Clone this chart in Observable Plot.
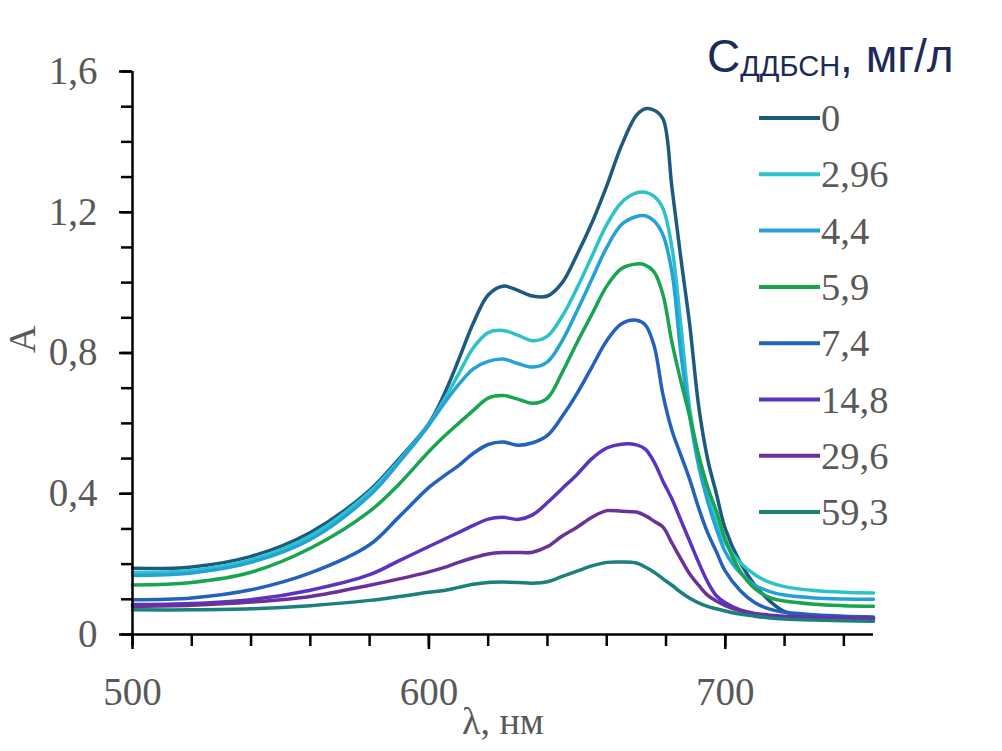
<!DOCTYPE html>
<html>
<head>
<meta charset="utf-8">
<script src="https://cdn.jsdelivr.net/npm/d3@7"></script>
<script src="https://cdn.jsdelivr.net/npm/@observablehq/plot@0.6"></script>
<style>
  html, body { margin: 0; padding: 0; background: #fff; }
  #wrap { position: relative; width: 1002px; height: 751px; }
  #legend { position: absolute; left: 0; top: 0; pointer-events: none; }
</style>
</head>
<body>
<div id="wrap"></div>
<script>
// ---- data ----
const lambda = [500,520,540,560,580,590,600,605,610,615,620,625,630,635,640,645,650,655,660,665,670,673,676,679,682,685,688,691,694,697,700,705,710,715,720,730,740,750];

const A_0    = [0.188,0.192,0.222,0.29,0.41,0.50,0.60,0.68,0.78,0.885,0.965,0.99,0.978,0.962,0.962,1.00,1.08,1.17,1.275,1.39,1.475,1.494,1.49,1.465,1.27,1.07,0.88,0.65,0.50,0.40,0.30,0.205,0.14,0.095,0.065,0.05,0.046,0.045];
const A_296  = [0.176,0.182,0.212,0.28,0.405,0.495,0.598,0.665,0.74,0.815,0.858,0.864,0.851,0.835,0.848,0.905,0.985,1.075,1.165,1.228,1.255,1.257,1.245,1.21,1.10,0.88,0.64,0.50,0.40,0.32,0.26,0.205,0.17,0.148,0.136,0.125,0.12,0.118];
const A_44   = [0.168,0.175,0.205,0.27,0.395,0.49,0.595,0.655,0.71,0.755,0.776,0.783,0.77,0.76,0.775,0.835,0.92,1.01,1.10,1.165,1.188,1.19,1.175,1.135,1.03,0.80,0.62,0.48,0.38,0.30,0.235,0.175,0.14,0.122,0.112,0.104,0.101,0.10];
const A_59   = [0.141,0.148,0.177,0.245,0.35,0.428,0.52,0.562,0.60,0.637,0.672,0.679,0.669,0.657,0.672,0.745,0.83,0.91,0.99,1.04,1.053,1.05,1.03,0.965,0.83,0.72,0.62,0.51,0.42,0.35,0.27,0.18,0.13,0.105,0.095,0.086,0.082,0.08];
const A_74   = [0.099,0.104,0.127,0.175,0.255,0.335,0.418,0.45,0.48,0.515,0.54,0.547,0.538,0.545,0.566,0.62,0.685,0.76,0.835,0.883,0.893,0.88,0.82,0.68,0.58,0.51,0.44,0.36,0.29,0.235,0.18,0.125,0.09,0.072,0.063,0.056,0.052,0.05];
const A_148  = [0.085,0.088,0.099,0.126,0.17,0.21,0.25,0.27,0.29,0.31,0.328,0.333,0.327,0.34,0.375,0.415,0.455,0.50,0.53,0.541,0.539,0.527,0.49,0.435,0.385,0.325,0.265,0.205,0.15,0.11,0.09,0.07,0.06,0.055,0.052,0.05,0.048,0.047];
const A_296b = [0.08,0.083,0.092,0.108,0.14,0.158,0.178,0.19,0.205,0.218,0.229,0.233,0.233,0.234,0.25,0.28,0.305,0.333,0.352,0.35,0.348,0.338,0.322,0.305,0.26,0.215,0.172,0.14,0.112,0.095,0.082,0.067,0.058,0.052,0.049,0.046,0.045,0.044];
const A_593  = [0.07,0.07,0.073,0.082,0.097,0.108,0.12,0.125,0.134,0.143,0.148,0.149,0.148,0.146,0.15,0.165,0.18,0.195,0.205,0.206,0.203,0.192,0.177,0.158,0.14,0.12,0.103,0.09,0.08,0.073,0.067,0.058,0.052,0.047,0.044,0.041,0.039,0.038];

const concLabels = ["0","2,96","4,4","5,9","7,4","14,8","29,6","59,3"];
const seriesValues = [A_0, A_296, A_44, A_59, A_74, A_148, A_296b, A_593];

const majorX = [500, 600, 700];
const minorX = d3.range(500, 741, 20);
const majorY = [0, 0.4, 0.8, 1.2, 1.6];
const minorY = d3.range(0, 17).map(i => i / 10);

// ---- styles ----
const seriesColors = ["#1d5a80","#2cc3c8","#24a1d9","#17a54f","#2261be","#5a33c3","#6b3199","#1b7f7c"];
const textGray = "#595959";
const serif = "'Liberation Serif', 'Times New Roman', serif";
const sans = "'Liberation Sans', Arial, sans-serif";
const fmtComma = d => d === 0 ? "0" : String(d).replace(".", ",");

const table = [];
concLabels.forEach((c, i) => lambda.forEach((nm, j) => table.push({nm, A: seriesValues[i][j], conc: c})));

const plot = Plot.plot({
  width: 1002,
  height: 751,
  marginLeft: 132,
  marginRight: 129,
  marginTop: 71,
  marginBottom: 117,
  style: {fontFamily: serif, background: "white", color: "black", overflow: "visible"},
  x: {domain: [500, 750]},
  y: {domain: [0, 1.6]},
  color: {domain: concLabels, range: seriesColors},
  marks: [
    Plot.line(table, {x: "nm", y: "A", z: "conc", stroke: "conc", strokeWidth: 3.5, curve: "catmull-rom"}),
    Plot.axisX({ticks: minorX, tickSize: 12, tickFormat: () => "", strokeWidth: 2.5, label: null}),
    Plot.axisX({ticks: majorX, tickSize: 15, tickPadding: 28, fontSize: 39, fill: textGray, stroke: "black", strokeWidth: 2.5, label: null}),
    Plot.axisY({ticks: minorY, tickSize: 11, tickFormat: () => "", strokeWidth: 2.5, label: null}),
    Plot.axisY({ticks: majorY, tickSize: 13, tickPadding: 22, tickFormat: fmtComma, fontSize: 39, fill: textGray, stroke: "black", strokeWidth: 2.5, label: null}),
    Plot.ruleX([500], {stroke: "black", strokeWidth: 2.5}),
    Plot.ruleY([0], {stroke: "black", strokeWidth: 2.5}),
    Plot.text(["λ, нм"], {text: d => d, frameAnchor: "bottom", dy: 99, fontSize: 38, fill: textGray}),
    Plot.text(["A"], {text: d => d, frameAnchor: "left", dx: -110, rotate: -90, fontSize: 38, fill: textGray})
  ]
});
document.getElementById("wrap").appendChild(plot);

// ---- legend (overlay) ----
const leg = d3.select("#wrap").append("svg")
  .attr("id", "legend").attr("width", 1002).attr("height", 751);
const title = leg.append("text")
  .attr("x", 707).attr("y", 72)
  .attr("font-family", sans).attr("font-size", 46).attr("fill", "#1c2a57");
title.append("tspan").text("C");
title.append("tspan").attr("font-size", 29).attr("dy", 4).text("ДДБСН");
title.append("tspan").attr("dy", -4).text(", мг/л");

const rowTop = 118, rowStep = 56.3;
const rows = leg.selectAll("g.row").data(concLabels).join("g").attr("class", "row")
  .attr("transform", (d, i) => `translate(0,${rowTop + i * rowStep})`);
rows.append("line")
  .attr("x1", 759).attr("x2", 820).attr("y1", 0).attr("y2", 0)
  .attr("stroke", (d, i) => seriesColors[i]).attr("stroke-width", 4);
rows.append("text")
  .attr("x", 821).attr("y", 0).attr("dy", "0.34em")
  .attr("font-family", serif).attr("font-size", 38.5).attr("fill", textGray)
  .text(d => d);
</script>
</body>
</html>
